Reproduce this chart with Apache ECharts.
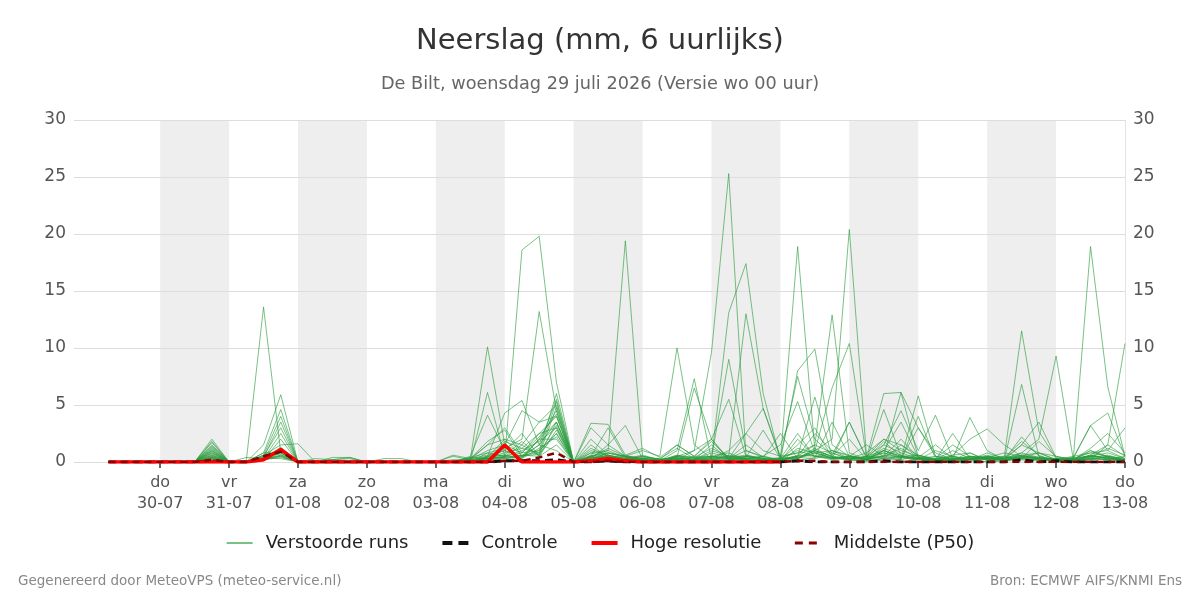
<!DOCTYPE html>
<html>
<head>
<meta charset="utf-8">
<script src="https://cdn.jsdelivr.net/npm/echarts@6/dist/echarts.min.js"></script>
<style>
  html, body { margin: 0; padding: 0; background: #fff; }
  #main { width: 1200px; height: 600px; }
</style>
</head>
<body>
<div id="main"></div>
<script>
// 6-uurlijkse stappen, eerste waarde 29-07 06 uur, laatste 13-08 00 uur
var startTime = Date.UTC(2026, 6, 29, 6);
var stepMs = 6 * 3600 * 1000;
var nSteps = 60;

var dayNames = ['zo', 'ma', 'di', 'wo', 'do', 'vr', 'za'];

// dagen met een streepje + label op de x-as
var tickDays = ['2026-07-30', '2026-07-31', '2026-08-01', '2026-08-02', '2026-08-03',
  '2026-08-04', '2026-08-05', '2026-08-06', '2026-08-07', '2026-08-08', '2026-08-09',
  '2026-08-10', '2026-08-11', '2026-08-12', '2026-08-13'];

// grijze banden (om de dag)
var bandDays = [
  ['2026-07-30', '2026-07-31'],
  ['2026-08-01', '2026-08-02'],
  ['2026-08-03', '2026-08-04'],
  ['2026-08-05', '2026-08-06'],
  ['2026-08-07', '2026-08-08'],
  ['2026-08-09', '2026-08-10'],
  ['2026-08-11', '2026-08-12']
];

// verstoorde runs (ensemble leden), mm per 6 uur
var members = [
  [0,0,0, 0,0,0,0.4, 0,0.1,13.6,0.8, 0,0,0,0, 0,0,0,0, 0,0,0.2,0.3, 0.4,18.6,19.8,7.0, 0,0.5,0.3,0.2, 0.1,0,0.3,0.2, 0.5,0.8,0.2,0.1, 0,0.3,1.2,0.4, 0.2,0,1.5,0.8, 0.3,0.1,0,0.2, 0,0.4,1.8,0.6, 0,0.1,0.3,0.2, 0],
  [0,0,0, 0,0,0,1.0, 0,0,1.5,5.9, 0,0,0,0, 0,0,0,0, 0,0,0,0.8, 1.2,2.0,13.2,4.5, 0,0.8,1.0,19.4, 0.5,0.2,0,0.3, 0.1,0.2,0.5,0.3, 0,0.1,0.4,1.0, 0.6,0.2,0.1,0, 0.3,0.2,0.5,0.2, 0,0.3,0.8,0.4, 0.1,0,0.2,0.5, 0.3],
  [0,0,0, 0,0,0,1.8, 0,0,0.8,4.6, 0,0,0,0, 0,0,0,0, 0,0.5,0.2,10.1, 1.5,0.8,2.5,3.0, 0,0.4,1.2,0.5, 0.3,0,0.5,1.0, 9.6,25.3,0.6,0.3, 0,1.2,0.8,0.3, 0.2,0.5,1.0,0.4, 0.2,0,0.6,0.8, 0.1,0,0.5,0.3, 0.1,0.2,1.0,0.4, 0],
  [0,0,0, 0,0,0,1.5, 0,0,0.6,4.0, 0,0,0,0, 0,0,0,0, 0,0,0,6.1, 0.5,1.5,3.5,4.0, 0,1.0,0.6,0.2, 0.5,0.2,0.3,0.1, 0.3,13.1,17.4,6.0, 0.2,0.5,2.5,1.0, 0.3,0.8,2.0,1.5, 0.4,0.2,0,0.3, 0.6,0.2,1.5,0.8, 0.2,0.1,0.5,1.2, 0.6],
  [0,0,0, 0,0,0,1.2, 0,0,0.4,3.5, 0,0,0,0, 0,0,0,0, 0,0,0.5,4.1, 1.0,0.5,1.5,5.5, 0,0.3,0.6,0.2, 0.2,0,0.2,0.4, 0.5,0.3,0.2,0.1, 0.2,18.9,1.0,0.3, 0.5,0.2,1.0,3.5, 0.4,0.1,0.3,0.2, 0.8,0.3,0.2,0.1, 0.3,0.4,3.2,4.3, 0.5],
  [0,0,0, 0,0,0,0.8, 0,0,0.5,3.0, 0,0,0,0, 0,0,0,0, 0,0,0.3,1.8, 2.8,0.5,2.0,4.5, 0,1.5,0.4,0.3, 0.2,0.1,0.5,0.2, 0.4,9.0,1.0,0.5, 0.2,0.3,1.0,2.0, 20.4,0.5,0.3,1.5, 0.6,0.2,0.1,0, 0.5,0.2,0.4,0.3, 0,0.2,0.6,0.3, 0.2],
  [0,0,0, 0,0,0,0.6, 0,0.4,0.3,2.5, 0,0,0.4,0.4, 0,0,0,0, 0,0,0.2,1.0, 1.5,4.5,3.5,5.0, 0,0.5,3.0,0.4, 0.3,0.2,0.2,0.1, 0.2,0.5,13.0,4.7, 0.5,0.8,1.5,12.9, 0.8,0.2,1.0,0.5, 0.3,0.1,0.4,0.2, 0.4,0.2,6.8,0.5, 0.1,0.3,0.2,0.5, 0.2],
  [0,0,0, 0,0,0,0.5, 0,0,0.2,2.0, 0,0,0,0, 0,0,0,0, 0,0.6,0.3,1.5, 2.0,0.5,1.0,6.0, 0,0.3,0.8,0.5, 1.0,0.5,10.0,1.5, 0.3,0.2,0.5,0.3, 0.1,8.0,9.9,1.5, 0.5,0.2,4.6,0.5, 0.3,0.2,0.1,0.3, 0.5,0.1,0.3,0.2, 0.3,0.1,0.5,0.4, 0.1],
  [0,0,0, 0,0,0,0.4, 0,0,0.6,1.5, 1.6,0,0,0, 0,0,0,0, 0,0,0,0.5, 1.0,2.5,0.5,3.5, 0,0.2,0.5,0.2, 0.3,0.1,1.0,7.3, 0.2,0.5,0.2,0.1, 0.3,1.0,0.5,0.2, 0.4,0.2,1.0,0.5, 0.3,0.5,0.2,0.8, 0.2,0.5,11.5,2.7, 0.3,0.1,0.5,0.8, 0.3],
  [0,0,0, 0,0,0,0.3, 0,0,0.3,1.2, 0,0,0.2,0.3, 0,0,0,0, 0,0,0.2,0.4, 0.8,1.2,2.5,4.0, 0,2.0,0.6,0.3, 0.2,0.1,0.4,6.5, 2.0,5.5,0.5,0.3, 0.2,0.4,0.8,1.0, 0.5,0.3,0.5,6.1, 0.4,0.2,0.1,0.5, 0.2,0.3,0.8,2.0, 9.3,0.2,0.4,0.3, 0.2],
  [0,0,0, 0,0,0,2.0, 0,0,0.4,1.0, 0,0,0,0, 0,0,0,0, 0,0,0.4,0.8, 0.5,1.0,1.8,3.0, 0,0.4,0.3,0.5, 0.2,0.1,0.6,0.3, 0.5,0.3,2.5,1.0, 0.5,7.5,2.0,0.6, 3.5,0.4,0.8,0.3, 5.8,0.5,0.3,0.2, 0.4,0.2,0.5,0.3, 0.1,0.3,18.9,6.6, 0.5],
  [0,0,0, 0,0,0,1.7, 0,0,0.8,0.9, 0,0.3,0.2,0, 0,0,0,0, 0,0,0,0.3, 0.5,0.8,1.0,2.5, 0,1.2,0.5,0.3, 0.6,0.2,0.4,0.2, 0.8,0.4,0.3,0.2, 0.1,0.5,1.5,0.8, 0.3,0.4,6.0,6.1, 3.0,0.5,0.2,0.4, 0.3,0.2,0.5,0.4, 0.3,0.1,0.2,1.5, 10.4],
  [0,0,0, 0,0,0,1.4, 0,0,0.5,0.7, 0,0,0,0, 0,0,0,0, 0,0,0,0.5, 4.3,5.4,1.5,3.5, 0,0.6,0.4,0.2, 0.3,0.2,0.5,0.4, 0.2,0.1,0.3,0.2, 0.4,0.8,1.0,6.5, 10.4,0.4,0.5,2.0, 0.4,1.5,0.3,3.9, 1.0,0.2,0.3,0.2, 0.1,0.3,0.5,0.4, 0.2],
  [0,0,0, 0,0,0,1.0, 0,0,0.3,0.5, 0,0,0,0, 0,0,0,0, 0,0,0,0.2, 1.8,1.2,0.8,5.3, 0,0.3,1.5,0.5, 0.2,0.1,0.3,0.2, 0.3,1.0,2.5,4.7, 0.3,0.5,5.7,0.5, 0.2,0.5,1.5,4.5, 1.0,4.1,0.3,0.2, 0.5,0.3,0.6,0.4, 0.2,0.1,0.3,0.2, 0.1],
  [0,0,0, 0,0,0,0.7, 0,0,0.2,0.4, 0,0,0,0, 0,0,0,0, 0,0.2,0.2,0.5, 0.6,0.3,2.0,3.5, 0,3.4,3.3,0.6, 1.2,0.4,1.5,0.5, 2.0,0.3,0.5,0.2, 0.2,0.3,1.0,0.5, 0.3,0.5,2.0,1.0, 0.5,0.3,0.6,2.0, 2.9,1.5,0.5,0.3, 0.2,0.5,0.8,1.0, 0.3],
  [0,0,0, 0,0,0,0.3, 0,0,0.2,0.6, 0,0,0,0, 0,0,0,0, 0,0,0,0.3, 0.4,0.5,0.7,2.5, 0,3.0,1.5,3.2, 0.3,0.2,0.2,1.0, 2.0,0.2,0.3,0.2, 0.1,2.0,0.5,0.3, 3.5,0.3,0.4,0.2, 4.0,0.3,0.2,0.5, 0.4,0.3,1.5,3.5, 0.4,0.2,0.3,0.2, 0.5],
  [0,0,0, 0,0,0,0.5, 0,0,0.3,0.3, 0,0,0,0, 0,0.3,0.3,0, 0,0,0,0.2, 0.3,0.6,0.5,1.5, 0,0.5,0.8,0.4, 0.2,0.1,0.4,0.2, 1.0,0.5,0.3,0.5, 1.5,5.3,0.8,0.3, 0.5,1.5,0.5,0.3, 3.0,0.8,0.2,0.3, 0.3,0.2,2.2,0.5, 0.2,0.3,3.2,1.0, 3.0],
  [0,0,0, 0,0,0,0.2, 0,0,0.1,0.8, 0,0,0,0, 0,0,0,0, 0,0,0,0.2, 0.3,0.4,1.5,1.0, 0,0.2,0.3,0.2, 0.1,0,0.2,0.5, 1.8,0.3,0.2,0.1, 0.3,0.4,0.3,0.8, 0.2,0.1,0.3,0.5, 0.6,0.2,1.0,0.3, 0.2,0.1,0.4,0.8, 0.5,0.2,0.6,0.3, 0.1],
  [0,0,0, 0,0,0,0.9, 0,0,0.2,1.1, 0,0,0,0, 0,0,0,0, 0,0,0.3,0.6, 1.0,0.4,2.0,2.0, 0,0.8,0.4,0.6, 0.2,0.3,1.2,0.3, 0.4,0.3,1.5,0.4, 0.2,1.5,3.0,0.4, 0.3,0.2,0.8,0.4, 0.3,0.2,2.5,0.3, 0.2,0.4,0.3,0.2, 0.2,0.2,1.2,2.5, 0.8],
  [0,0,0, 0,0,0,1.3, 0,0,0.4,0.8, 0,0,0,0, 0,0,0,0, 0,0,0,0.4, 0.6,1.8,0.5,2.8, 0,0.2,0.6,0.3, 0.5,0.2,0.3,0.2, 0.3,0.6,0.4,0.2, 0.3,2.5,0.4,3.5, 0.5,0.3,1.2,0.6, 0.2,1.0,0.5,0.2, 0.3,0.2,0.4,0.3, 0.2,0.1,0.4,0.6, 0.2],
  [0,0,0, 0,0,0,0.6, 0,0,0.3,1.0, 0,0,0.2,0.4, 0,0,0,0, 0,0,0.2,1.5, 3.0,0.8,2.2,4.2, 0,0.3,0.5,0.3, 0.2,0.2,1.5,0.5, 0.5,0.4,0.6,0.3, 0.2,0.4,1.0,0.5, 2.0,0.2,0.6,0.4, 0.2,0.3,1.5,0.5, 0.4,0.8,0.5,0.3, 0.3,0.2,0.6,1.5, 0.5],
  [0,0,0, 0,0,0,0.4, 0,0,0.2,0.5, 0,0,0,0, 0,0,0,0, 0,0,0.4,0.3, 0.5,0.3,1.2,2.2, 0,0.5,1.0,0.4, 0.3,0.1,0.5,0.2, 1.5,0.2,0.3,0.5, 0.1,0.6,0.5,0.4, 0.5,0.3,1.8,0.5, 0.4,0.2,0.3,0.5, 0.3,0.3,0.6,0.8, 0.2,0.3,0.8,0.5, 0.2],
  [0,0,0, 0,0,0,1.1, 0,0,0.3,1.3, 0,0,0,0, 0,0,0,0, 0,0,0,0.4, 2.0,1.5,0.6,4.8, 0,0.4,0.3,0.2, 0.2,0.1,0.6,0.4, 1.2,0.5,0.4,2.8, 0.3,0.5,0.6,0.3, 0.4,0.2,0.5,1.2, 0.3,0.2,0.5,0.2, 0.4,0.5,0.3,1.8, 0.5,0.2,1.0,0.5, 0.1],
  [0,0,0, 0,0,0,0.8, 0,0,0.2,0.6, 0,0,0,0, 0,0,0,0, 0,0,0,0.3, 0.4,0.6,0.8,3.2, 0,0.2,0.8,0.5, 0.4,0.3,0.2,0.1, 0.2,0.3,1.0,0.4, 2.5,0.3,0.8,0.4, 0.3,0.1,0.3,0.2, 0.6,0.3,0.2,0.4, 0.3,0.2,0.6,0.3, 0.1,0.4,0.5,0.3, 0.2]
];

var controle = [0,0,0, 0,0,0,0.1, 0,0,0.4,1.0, 0,0,0,0, 0,0,0,0, 0,0,0,0, 0.1,0.1,0.1,0.2, 0,0,0.1,0, 0,0,0,0, 0,0,0,0, 0,0.1,0,0, 0,0,0.1,0, 0,0,0,0, 0,0,0.2,0, 0.1,0,0,0, 0];
// hoge resolutie loopt tot 08-08 00 uur
var hogeResolutie = [0,0,0, 0,0,0,0, 0,0,0.2,1.1, 0,0,0,0, 0,0,0,0, 0,0,0,0, 1.5,0,0,0, 0,0.1,0.3,0.1, 0,0,0,0, 0,0,0,0, 0];
var middelste = [0,0,0, 0,0,0,0.2, 0,0,0.5,0.9, 0,0,0,0, 0,0,0,0, 0,0,0,0, 0.1,0.1,0.4,0.8, 0,0,0.1,0, 0,0,0,0, 0,0,0,0, 0,0.1,0.1,0, 0,0,0,0, 0,0,0,0, 0,0,0,0, 0,0,0,0, 0];

var times = [];
for (var i = 0; i < nSteps; i++) times.push(startTime + i * stepMs);

function pairs(vals) {
  var d = [];
  for (var i = 0; i < vals.length; i++) d.push([times[i], vals[i]]);
  return d;
}

function dayMs(s) { return Date.parse(s + 'T00:00:00Z'); }
var tickValues = tickDays.map(dayMs);

var myChart = echarts.init(document.getElementById('main'));

var series = [];
// lege serie die alleen de grijze banden draagt
series.push({
  name: 'banden',
  type: 'line',
  data: [],
  silent: true,
  markArea: {
    silent: true,
    z: -1,
    itemStyle: { color: '#eeeeee' },
    data: bandDays.map(function (b) {
      return [{ xAxis: dayMs(b[0]) }, { xAxis: dayMs(b[1]) }];
    })
  }
});
members.forEach(function (m) {
  series.push({
    name: 'Verstoorde runs',
    type: 'line',
    symbol: 'none',
    silent: true,
    z: 2,
    lineStyle: { width: 1, color: 'rgba(40,155,60,0.62)' },
    itemStyle: { color: '#72c283' },
    data: pairs(m)
  });
});
series.push({
  name: 'Controle',
  type: 'line',
  symbol: 'none',
  z: 5,
  lineStyle: { width: 3, color: '#111', type: [8, 5] },
  itemStyle: { color: '#111' },
  data: pairs(controle)
});
series.push({
  name: 'Hoge resolutie',
  type: 'line',
  symbol: 'none',
  z: 6,
  lineStyle: { width: 3.5, color: '#ff0000' },
  itemStyle: { color: '#ff0000' },
  data: pairs(hogeResolutie)
});
series.push({
  name: 'Middelste (P50)',
  type: 'line',
  symbol: 'none',
  z: 7,
  lineStyle: { width: 2.5, color: '#8b0000', type: [7, 5] },
  itemStyle: { color: '#8b0000' },
  data: pairs(middelste)
});

var option = {
  animation: false,
  textStyle: { fontFamily: 'DejaVu Sans' },
  title: [
    { text: 'Neerslag (mm, 6 uurlijks)', left: 'center', top: 27, padding: 0,
      textStyle: { fontSize: 29, fontWeight: 'normal', color: '#333' } },
    { text: 'De Bilt, woensdag 29 juli 2026 (Versie wo 00 uur)', left: 'center', top: 75, padding: 0,
      textStyle: { fontSize: 17.7, fontWeight: 'normal', color: '#666' } },
    { text: 'Gegenereerd door MeteoVPS (meteo-service.nl)', left: 18, top: 574, padding: 0,
      textStyle: { fontSize: 13.5, fontWeight: 'normal', color: '#888' } },
    { text: 'Bron: ECMWF AIFS/KNMI Ens', right: 18, top: 574, padding: 0,
      textStyle: { fontSize: 13.5, fontWeight: 'normal', color: '#888' } }
  ],
  legend: {
    top: 529,
    left: 'center',
    itemWidth: 26,
    itemHeight: 14,
    itemGap: 32,
    itemStyle: { color: 'rgba(0,0,0,0)', borderColor: 'rgba(0,0,0,0)', borderWidth: 0 },
    textStyle: { fontSize: 18, color: '#222', padding: [0, 0, 0, 8] },
    data: [
      { name: 'Verstoorde runs' },
      { name: 'Controle', lineStyle: { width: 4, type: [10, 6] } },
      { name: 'Hoge resolutie', lineStyle: { width: 4 } },
      { name: 'Middelste (P50)', lineStyle: { width: 3, type: [8, 6] } }
    ]
  },
  grid: { left: 74, right: 75, top: 120, bottom: 138 },
  xAxis: {
    type: 'value',
    min: Date.UTC(2026, 6, 28, 18),
    max: Date.UTC(2026, 7, 13, 0),
    axisLine: { show: false },
    axisTick: { show: true, length: 6, customValues: tickValues,
      lineStyle: { color: '#666', width: 2 } },
    splitLine: { show: false },
    axisLabel: {
      customValues: tickValues,
      fontSize: 16,
      color: '#555',
      lineHeight: 21,
      margin: 10,
      hideOverlap: false,
      formatter: function (v) {
        var d = new Date(v);
        var dd = ('0' + d.getUTCDate()).slice(-2);
        var mm = ('0' + (d.getUTCMonth() + 1)).slice(-2);
        return dayNames[d.getUTCDay()] + '\n' + dd + '-' + mm;
      }
    }
  },
  yAxis: [
    {
      type: 'value', min: 0, max: 30, interval: 5,
      axisLine: { show: false }, axisTick: { show: false },
      splitLine: { lineStyle: { color: '#dddddd' } },
      axisLabel: { fontSize: 17, color: '#555', margin: 8, padding: [4, 0, 0, 0] }
    },
    {
      type: 'value', min: 0, max: 30, interval: 5, position: 'right',
      axisLine: { show: true, lineStyle: { color: '#e3e3e3' } }, axisTick: { show: false },
      splitLine: { show: false },
      axisLabel: { fontSize: 17, color: '#555', margin: 8, padding: [4, 0, 0, 0] }
    }
  ],
  series: series
};

myChart.setOption(option);
</script>
</body>
</html>
